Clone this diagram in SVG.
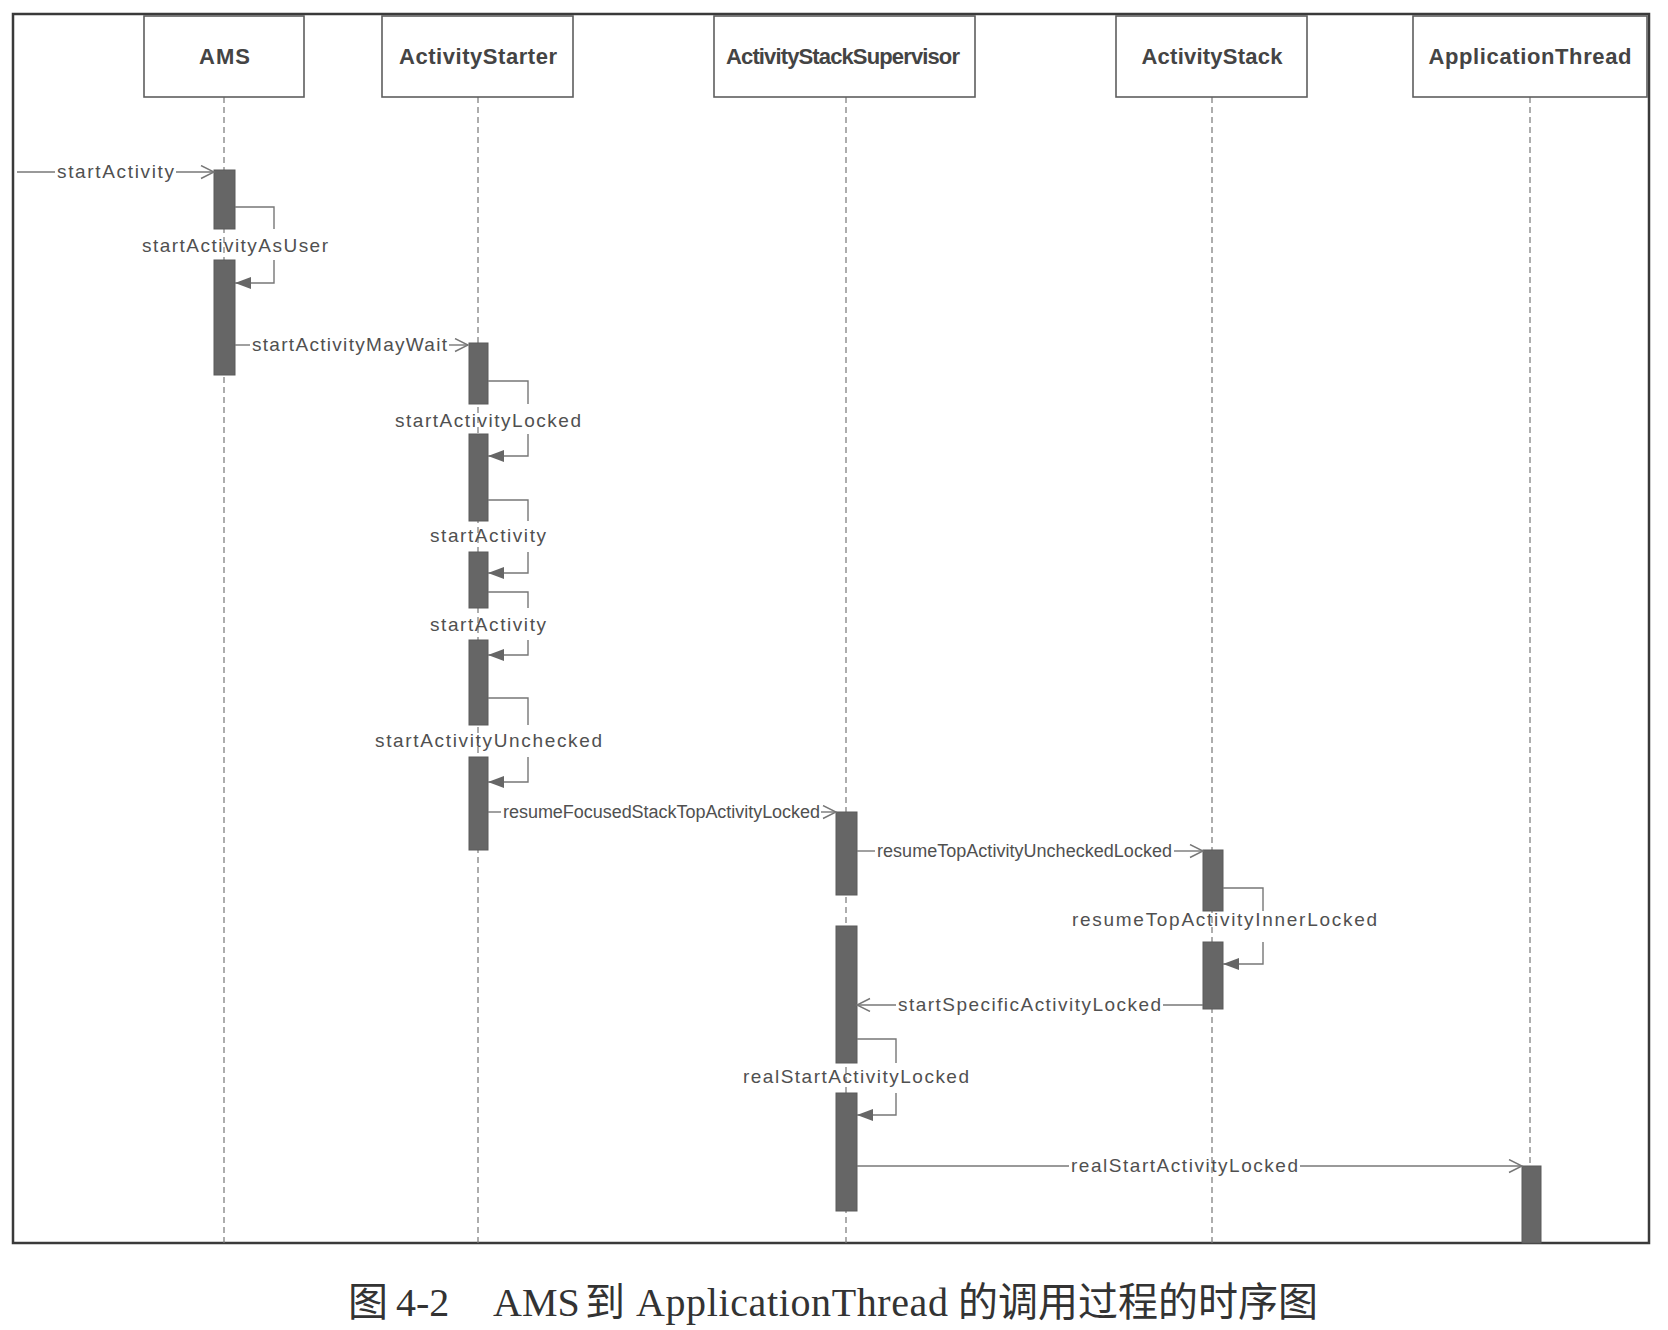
<svg xmlns="http://www.w3.org/2000/svg" width="1668" height="1330" viewBox="0 0 1668 1330">
<style>
.frame{fill:none;stroke:#3a3a3a;stroke-width:2.5}
.box{fill:#fff;stroke:#5e5e5e;stroke-width:1.6}
.hdr{font-family:"Liberation Sans",Arial,sans-serif;font-weight:bold;font-size:22px;fill:#444;text-anchor:middle}
.life{stroke:#777;stroke-width:1.2;stroke-dasharray:6 4;fill:none}
.bar{fill:#666;stroke:#5a5a5a;stroke-width:1}
.msg{stroke:#777;stroke-width:1.4;fill:none}
.lbl{font-family:"Liberation Sans",Arial,sans-serif;font-size:19px;fill:#505050}
.sm{font-size:18px}
.cap{font-family:"Liberation Serif","Times New Roman","Noto Sans CJK SC",serif;font-size:40px;fill:#333}
.cjk{font-family:"Noto Sans CJK SC","Liberation Serif",sans-serif}
</style>
<defs>
<marker id="open" markerUnits="userSpaceOnUse" markerWidth="16" markerHeight="16" refX="14" refY="7" orient="auto" viewBox="0 0 16 16">
<path d="M1,0.5 L14,7 L1,13.5" fill="none" stroke="#777" stroke-width="1.4"/>
</marker>
<marker id="fill" markerUnits="userSpaceOnUse" markerWidth="18" markerHeight="14" refX="16" refY="6" orient="auto" viewBox="0 0 18 14">
<path d="M0,0 L16,6 L0,12 z" fill="#666"/>
</marker>
</defs>
<rect width="1668" height="1330" fill="#fff"/>
<rect class="frame" x="13" y="14" width="1636" height="1229"/>

<g id="lifelines">
<line class="life" x1="224" y1="97" x2="224" y2="1243"/>
<line class="life" x1="478" y1="97" x2="478" y2="1243"/>
<line class="life" x1="846" y1="97" x2="846" y2="1243"/>
<line class="life" x1="1212" y1="97" x2="1212" y2="1243"/>
<line class="life" x1="1530" y1="97" x2="1530" y2="1243"/>
</g>

<g id="AMS">
<rect class="box" x="144" y="16" width="160" height="81"/>
<text class="hdr" x="224.5" y="64" textLength="51">AMS</text>
<rect class="bar" x="214" y="170" width="21" height="59"/>
<rect class="bar" x="214" y="260" width="21" height="115"/>
</g>

<g id="ActivityStarter">
<rect class="box" x="382" y="16" width="191" height="81"/>
<text class="hdr" x="478" y="64" textLength="158">ActivityStarter</text>
<rect class="bar" x="469" y="343" width="19" height="61"/>
<rect class="bar" x="469" y="434" width="19" height="87"/>
<rect class="bar" x="469" y="552" width="19" height="56"/>
<rect class="bar" x="469" y="640" width="19" height="85"/>
<rect class="bar" x="469" y="757" width="19" height="93"/>
</g>

<g id="ActivityStackSupervisor">
<rect class="box" x="714" y="16" width="261" height="81"/>
<text class="hdr" x="843" y="64" textLength="234">ActivityStackSupervisor</text>
<rect class="bar" x="836" y="812" width="21" height="83"/>
<rect class="bar" x="836" y="926" width="21" height="137"/>
<rect class="bar" x="836" y="1093" width="21" height="118"/>
</g>

<g id="ActivityStack">
<rect class="box" x="1116" y="16" width="191" height="81"/>
<text class="hdr" x="1212" y="64" textLength="141">ActivityStack</text>
<rect class="bar" x="1203" y="850" width="20" height="61"/>
<rect class="bar" x="1203" y="942" width="20" height="67"/>
</g>

<g id="ApplicationThread">
<rect class="box" x="1413" y="16" width="234" height="81"/>
<text class="hdr" x="1530" y="64" textLength="203">ApplicationThread</text>
<rect class="bar" x="1522" y="1166" width="19" height="77"/>
</g>

<g id="connectors">
<path class="msg" d="M17,172 H55"/>
<path class="msg" d="M176,172 H214" marker-end="url(#open)"/>
<path class="msg" d="M235,207 H274 V229"/>
<path class="msg" d="M274,260 V283 H235" marker-end="url(#fill)"/>
<path class="msg" d="M235,345 H250"/>
<path class="msg" d="M449,345 H468" marker-end="url(#open)"/>
<path class="msg" d="M488,381 H528 V404"/>
<path class="msg" d="M528,434 V456 H488" marker-end="url(#fill)"/>
<path class="msg" d="M488,500 H528 V521"/>
<path class="msg" d="M528,552 V573 H488" marker-end="url(#fill)"/>
<path class="msg" d="M488,592 H528 V608"/>
<path class="msg" d="M528,640 V655 H488" marker-end="url(#fill)"/>
<path class="msg" d="M488,698 H528 V725"/>
<path class="msg" d="M528,757 V782 H488" marker-end="url(#fill)"/>
<path class="msg" d="M488,812 H501"/>
<path class="msg" d="M821,812 H836" marker-end="url(#open)"/>
<path class="msg" d="M857,851 H875"/>
<path class="msg" d="M1174,851 H1203" marker-end="url(#open)"/>
<path class="msg" d="M1223,888 H1263 V911"/>
<path class="msg" d="M1263,942 V964 H1223" marker-end="url(#fill)"/>
<path class="msg" d="M1203,1005 H1163"/>
<path class="msg" d="M896,1005 H857" marker-end="url(#open)"/>
<path class="msg" d="M857,1039 H896 V1063"/>
<path class="msg" d="M896,1093 V1115 H857" marker-end="url(#fill)"/>
<path class="msg" d="M857,1166 H1069"/>
<path class="msg" d="M1300,1166 H1522" marker-end="url(#open)"/>
</g>

<g id="labels">
<text class="lbl" x="57" y="178" textLength="117">startActivity</text>
<text class="lbl" x="142" y="252" textLength="186">startActivityAsUser</text>
<text class="lbl" x="252" y="351" textLength="195">startActivityMayWait</text>
<text class="lbl" x="395" y="427" textLength="186">startActivityLocked</text>
<text class="lbl" x="430" y="542" textLength="116">startActivity</text>
<text class="lbl" x="430" y="631" textLength="116">startActivity</text>
<text class="lbl" x="375" y="747" textLength="227">startActivityUnchecked</text>
<text class="lbl sm" x="503" y="818" textLength="317">resumeFocusedStackTopActivityLocked</text>
<text class="lbl sm" x="877" y="857" textLength="295">resumeTopActivityUncheckedLocked</text>
<text class="lbl" x="1072" y="926" textLength="305">resumeTopActivityInnerLocked</text>
<text class="lbl" x="898" y="1011" textLength="263">startSpecificActivityLocked</text>
<text class="lbl" x="743" y="1083" textLength="226">realStartActivityLocked</text>
<text class="lbl" x="1071" y="1172" textLength="227">realStartActivityLocked</text>
</g>

<g id="caption">
<text class="cap" y="1316"><tspan class="cjk" x="348">图</tspan><tspan x="396">4-2</tspan><tspan x="493">AMS</tspan><tspan class="cjk" x="585">到</tspan><tspan x="636" textLength="312">ApplicationThread</tspan><tspan class="cjk" x="958">的调用过程的时序图</tspan></text>
</g>
</svg>
